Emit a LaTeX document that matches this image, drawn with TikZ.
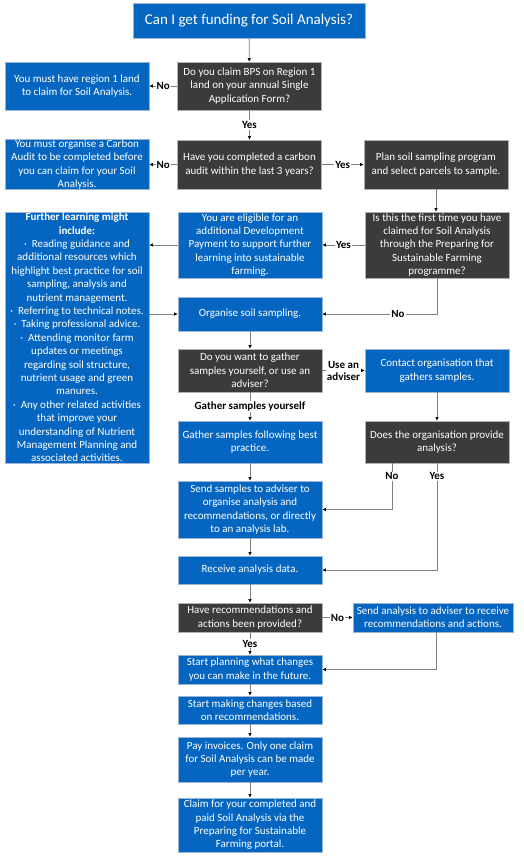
\documentclass[tikz,border=0pt]{standalone}
\usepackage{fontspec}
\setmainfont{Carlito}
\usetikzlibrary{positioning, arrows.meta, calc}
\definecolor{pfsBlue}{HTML}{0566C1}
\definecolor{pfsGrey}{HTML}{3B3B3B}
\definecolor{pfsLine}{HTML}{808080}
\definecolor{pfsEdge}{HTML}{9DB3D3}
\tikzset{
  % Process boxes
  action/.style={
    draw=pfsEdge, line width=0.6pt, fill=pfsBlue, text=white,
    align=center, font=\fontsize{11}{13.4}\selectfont,
    inner xsep=1pt, inner ysep=1pt,
    minimum width=144pt, minimum height=28pt
  },
  % Question boxes
  decision/.style={action, draw=gray!60, fill=pfsGrey},
  % Connectors
  flow/.style={
    draw=pfsLine, line width=0.8pt,
    -{Latex[length=3.5pt, width=3.5pt, color=black]}
  },
  % Yes / No labels
  answer/.style={
    fill=white, text=black, inner sep=1pt, align=center,
    font=\fontsize{11}{12}\selectfont\bfseries
  },
}

\begin{document}
\begin{tikzpicture}[x=1pt, y=-1pt]
  \useasboundingbox (0,0) rectangle (524,860);

  %% ── Title ──
  \node[action, minimum width=232pt, minimum height=35pt,
        font=\fontsize{15}{18}\selectfont] (title) at (249,20.5)
        {Can I get funding for Soil Analysis?};

  %% ── Eligibility ──
  \node[decision, minimum height=48pt] (bpsQ) at (249.5,86)
        {Do you claim BPS on Region 1\\land on your annual Single\\Application Form?};
  \node[action, minimum height=48pt] (noRegion) at (77,86)
        {You must have region 1 land\\to claim for Soil Analysis.};
  \node[decision, minimum height=49pt] (auditQ) at (249.5,164.5)
        {Have you completed a carbon\\audit within the last 3 years?};
  \node[action, minimum height=49pt, inner ysep=0pt] (noAudit) at (77,164.5)
        {You must organise a Carbon\\Audit to be completed before\\you can claim for your Soil\\Analysis.};
  \node[decision, minimum height=49pt] (planSampling) at (436,164.5)
        {Plan soil sampling program\\and select parcels to sample.};
  \node[decision, minimum height=66pt] (firstQ) at (437,245)
        {Is this the first time you have\\claimed for Soil Analysis\\through the Preparing for\\Sustainable Farming\\programme?};
  \node[action, minimum height=66pt] (eligible) at (250,245)
        {You are eligible for an\\additional Development\\Payment to support further\\learning into sustainable\\farming.};
  \node[action, minimum height=251pt, inner ysep=0pt] (learning) at (77,337.5)
        {\textbf{Further learning might}\\\textbf{include:}\\
         · \ Reading guidance and\\additional resources which\\highlight best practice for soil\\sampling, analysis and\\nutrient management.\\
         · \ Referring to technical notes.\\
         · \ Taking professional advice.\\
         · \ Attending monitor farm\\updates or meetings\\regarding soil structure,\\nutrient usage and green\\manures.\\
         · \ Any other related activities\\that improve your\\understanding of Nutrient\\Management Planning and\\associated activities.};

  %% ── Sampling ──
  \node[action, minimum height=34pt] (organise) at (250,314)
        {Organise soil sampling.};
  \node[decision, minimum height=43pt] (gatherQ) at (250,370.5)
        {Do you want to gather\\samples yourself, or use an\\adviser?};
  \node[action, minimum height=43pt] (contactOrg) at (437,370.5)
        {Contact organisation that\\gathers samples.};
  \node[action, minimum height=42pt] (gatherSelf) at (250,442)
        {Gather samples following best\\practice.};
  \node[decision, minimum height=42pt] (orgQ) at (437,442)
        {Does the organisation provide\\analysis?};
  \node[action, minimum height=57pt] (sendSamples) at (250,509.5)
        {Send samples to adviser to\\organise analysis and\\recommendations, or directly\\to an analysis lab.};
  \node[action, minimum height=28pt] (receive) at (250,570)
        {Receive analysis data.};

  %% ── Recommendations ──
  \node[decision, minimum height=29pt, inner ysep=0pt] (recsQ) at (250,617.5)
        {Have recommendations and\\actions been provided?};
  \node[action, minimum width=160pt, minimum height=29pt, inner ysep=0pt] (sendAnalysis) at (433,617.5)
        {Send analysis to adviser to receive\\recommendations and actions.};
  \node[action, minimum height=29pt, inner ysep=0pt] (planning) at (250,669.5)
        {Start planning what changes\\you can make in the future.};
  \node[action, minimum height=28pt, inner ysep=0pt] (making) at (250,710)
        {Start making changes based\\on recommendations.};
  \node[action, minimum height=45pt] (pay) at (250,759.5)
        {Pay invoices. Only one claim\\for Soil Analysis can be made\\per year.};
  \node[action, minimum height=54pt] (claim) at (250,825)
        {Claim for your completed and\\paid Soil Analysis via the\\Preparing for Sustainable\\Farming portal.};

  %% ── Connectors ──
  \draw[flow] (title) -- (bpsQ);
  \draw[flow] (bpsQ) -- node[answer] {No} (noRegion);
  \draw[flow] (bpsQ) -- node[answer] {Yes} (auditQ);
  \draw[flow] (auditQ) -- node[answer] {No} (noAudit);
  \draw[flow] (auditQ) -- node[answer] {Yes} (planSampling);
  \draw[flow] (planSampling) -- (planSampling |- firstQ.north);
  \draw[flow] (firstQ) -- node[answer] {Yes} (eligible);
  \draw[flow] (eligible) -- (learning.east |- eligible);
  \draw[flow] (learning.east |- organise) -- (organise.west);
  \draw[flow] (firstQ.south) |- node[answer, pos=0.67] {No} (organise.east);
  \draw[flow] (organise) -- (gatherQ);
  \draw[flow] (gatherQ) -- node[answer] {Use an\\adviser} (contactOrg);
  \draw[flow] (gatherQ) -- node[answer] {Gather samples yourself} (gatherSelf);
  \draw[flow] (contactOrg) -- (orgQ);
  \draw[flow] (gatherSelf) -- (sendSamples);
  \draw[flow] ([xshift=-45pt]orgQ.south) |- node[answer, pos=0.14] {No} (sendSamples.east);
  \draw[flow] (orgQ.south) |- node[answer, pos=0.06] {Yes} (receive.east);
  \draw[flow] (sendSamples) -- (receive);
  \draw[flow] (receive) -- (recsQ);
  \draw[flow] (recsQ) -- node[answer] {No} (sendAnalysis);
  \draw[flow] (recsQ) -- node[answer] {Yes} (planning);
  \draw[flow] ([xshift=3pt]sendAnalysis.south) |- (planning.east);
  \draw[flow] (planning) -- (making);
  \draw[flow] (making) -- (pay);
  \draw[flow] (pay) -- (claim);

\end{tikzpicture}
\end{document}
